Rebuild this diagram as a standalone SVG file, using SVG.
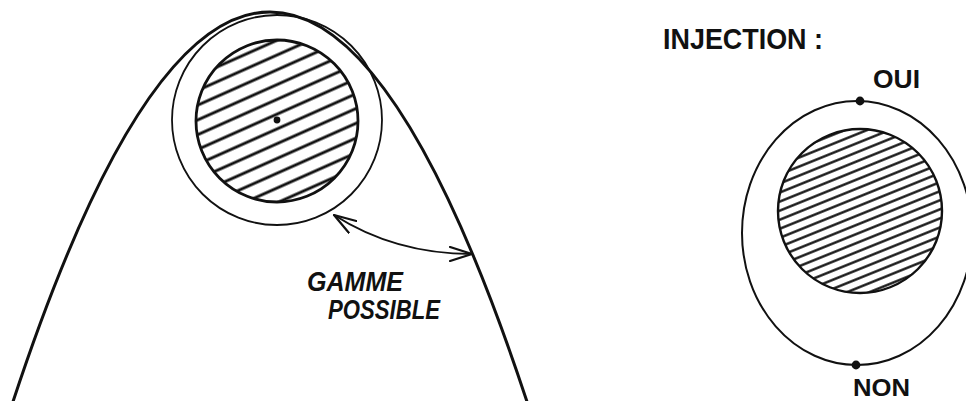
<svg xmlns="http://www.w3.org/2000/svg" width="966" height="401" viewBox="0 0 966 401">
  <style>
    .ink { fill: none; stroke: #111; stroke-linecap: round; stroke-linejoin: round; }
    .label { font-family: "Liberation Sans", "DejaVu Sans", sans-serif; font-weight: bold; fill: #111; }
    .slant { font-style: italic; }
  </style>
  <defs>
    <pattern id="hatchL" patternUnits="userSpaceOnUse" width="40" height="13.5" patternTransform="rotate(-24 277 121)">
      <line x1="0" y1="6.75" x2="40" y2="6.75" stroke="#111" stroke-width="3.1"/>
    </pattern>
    <pattern id="hatchR" patternUnits="userSpaceOnUse" width="40" height="8.4" patternTransform="rotate(-22 860 211)">
      <line x1="0" y1="4.2" x2="40" y2="4.2" stroke="#111" stroke-width="2.4"/>
    </pattern>
    <marker id="openHead" viewBox="0 0 24 16" refX="23" refY="8" markerWidth="24" markerHeight="16" markerUnits="userSpaceOnUse" orient="auto-start-reverse">
      <path d="M1,1 L23,8 L1,15" fill="none" stroke="#111" stroke-width="2.2" stroke-linecap="round" stroke-linejoin="round"/>
    </marker>
  </defs>
  <rect width="966" height="401" fill="#fff"/>

  <!-- Left figure -->
  <g id="parabola">
    <path class="ink" stroke-width="3" d="M10,410.8 Q270,-386.9 530,410.8"/>
  </g>
  <g id="outer-circle-left">
    <circle class="ink" cx="277" cy="120" r="105" stroke-width="1.8"/>
  </g>
  <g id="inner-circle-left">
    <circle cx="277" cy="121" r="81" fill="url(#hatchL)" stroke="#111" stroke-width="2.8"/>
    <circle cx="277" cy="120" r="3.4" fill="#111"/>
  </g>
  <g id="label-gamme">
    <text class="label slant" x="307" y="291" font-size="27" textLength="96" lengthAdjust="spacingAndGlyphs">GAMME</text>
    <text class="label slant" x="328" y="319" font-size="27" textLength="112" lengthAdjust="spacingAndGlyphs">POSSIBLE</text>
  </g>

  <!-- Right figure -->
  <g id="label-injection">
    <text class="label" x="663" y="49" font-size="30" textLength="160" lengthAdjust="spacingAndGlyphs">INJECTION :</text>
  </g>
  <g id="outer-ellipse-right">
    <ellipse class="ink" cx="857" cy="233" rx="115" ry="132" stroke-width="2"/>
  </g>
  <g id="inner-circle-right">
    <circle cx="860" cy="211" r="82" fill="url(#hatchR)" stroke="#111" stroke-width="2.4"/>
  </g>
  <g id="point-oui">
    <circle cx="860" cy="101" r="4.4" fill="#111"/>
    <text class="label" x="873" y="88" font-size="26" textLength="47" lengthAdjust="spacingAndGlyphs">OUI</text>
  </g>
  <g id="point-non">
    <circle cx="856" cy="365" r="4.4" fill="#111"/>
    <text class="label" x="853" y="396" font-size="24" textLength="57" lengthAdjust="spacingAndGlyphs">NON</text>
  </g>

  <!-- Connectors -->
  <g id="connectors">
    <path class="ink" stroke-width="2" d="M334,215 Q395,254 472,254" marker-start="url(#openHead)" marker-end="url(#openHead)"/>
  </g>
</svg>
